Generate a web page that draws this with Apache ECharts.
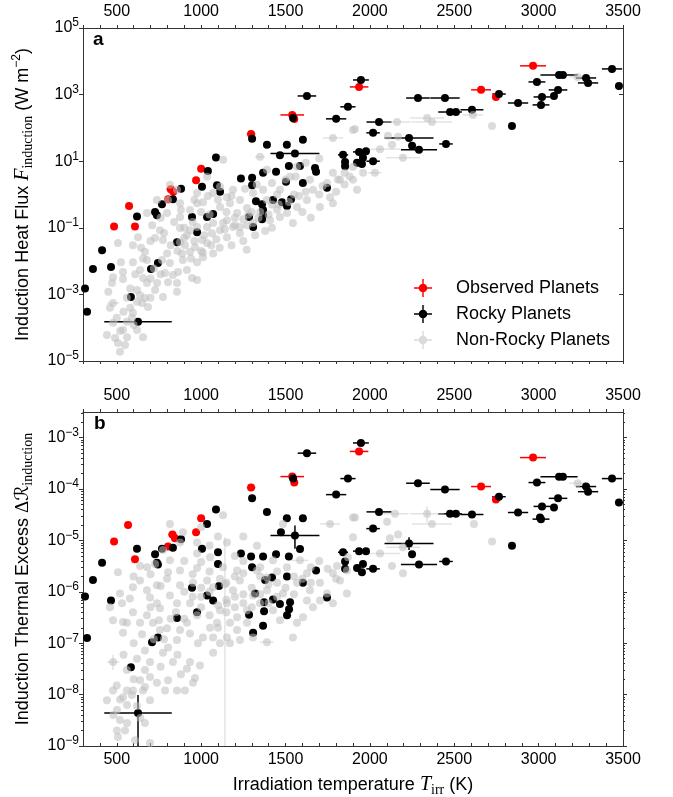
<!DOCTYPE html>
<html><head><meta charset="utf-8">
<script src="https://cdn.jsdelivr.net/npm/echarts@6/dist/echarts.min.js"></script>
<style>html,body{margin:0;padding:0;background:#fff}#c{width:673px;height:797px}</style>
</head><body><div id="c"></div><script>
// ---------------- DATA ----------------
const xTickLabels = [500, 1000, 1500, 2000, 2500, 3000, 3500];
const fluxDecades = [1e-5, 1e-3, 1e-1, 1e1, 1e3, 1e5];
const excessDecades = [1e-9, 1e-8, 1e-7, 1e-6, 1e-5, 1e-4, 1e-3];

// [T_irr (K), value, T error (K)]
const observedFlux = [
[484,0.11,0],[573,0.45,0],[608,0.11,0],[804,0.72,0],[820,1.45,25],[835,1.2,0],[970,2.7,0],[1000,5.9,0],
[1296,66,25],[1540,245,70],[1552,186,0],[1936,1700,55],[2659,1390,59],[2747,850,0],[2967,7300,77]];
const observedExcess = [
[484,9.5e-6,0],[567,2.0e-5,0],[608,4.3e-6,0],[804,7.6e-6,0],[830,1.3e-5,25],[845,1.1e-5,0],[970,1.45e-5,0],[1000,2.7e-5,0],
[1296,1.07e-4,25],[1540,1.75e-4,70],[1552,1.34e-4,0],[1936,5.4e-4,55],[2659,1.12e-4,59],[2747,6.3e-5,0],[2967,4.1e-4,77]];

const rockyFlux = [
[312,0.0015,0],[324,3.0e-4,0],[359,0.0058,0],[413,0.021,0],[466,0.0066,0],[584,8.3e-4,0],[626,1.5e-4,200],
[620,0.22,0],[703,0.0058,0],[744,0.0087,0],[727,0.30,0],[738,0.24,0],[768,0.51,0],[857,0.037,15],[833,0.72,0],
[881,1.5,0],[946,0.21,0],[976,0.074,0],[1005,1.7,0],[1040,5.1,15],[1088,13,10],[1035,0.21,0],[1071,0.26,0],
[1094,1.9,0],[1112,1.2,0],[1236,3.0,15],[1302,3.2,10],[1302,1.9,10],[1302,47,10],[1308,0.105,0],[1325,0.63,0],
[1361,0.51,0],[1367,0.34,0],[1367,0.24,0],[1361,0.18,0],[1367,4.5,0],[1390,31,10],[1426,0.68,0],[1444,4.8,0],
[1467,15,20],[1479,0.59,0],[1509,0.45,0],[1508,31,0],[1520,7.2,0],[1503,2.4,0],[1533,0.72,0],[1545,200,0],
[1556,17,145],[1586,7.2,0],[1603,2.2,0],[1603,44,15],[1627,910,55],[1675,6.3,0],[1681,4.8,0],[1746,1.6,0],
[1284,0.21,0],[1800,187,60],[1841,15.5,30],[1853,9.5,0],[1853,7.0,0],[1870,430,45],[1936,19,36],[1977,20,0],
[1959,12.6,0],[1953,8.3,0],[2019,10,40],[1924,9,0],[1947,2750,47],[2054,150,74],[2019,71,40],[2285,790,70],
[2445,790,87],[2475,300,70],[2510,300,0],[2605,350,68],[2232,50,145],[2250,29,0],[2291,22,107],[2451,33,40],
[2842,115,0],[2765,1040,40],[2878,560,60],[2990,2400,50],[3020,850,50],[3014,490,50],[3091,910,0],[3115,1380,55],
[3121,3900,110],[3144,3900,0],[3281,3160,60],[3293,2240,60],[3435,5900,60],[3476,1800,0]];

const rockyExcess = [
[312,8.1e-7,0],[324,1.26e-7,0],[359,1.7e-6,0],[413,3.7e-6,0],[466,6.8e-7,0],[584,3.4e-8,0],[626,4.4e-9,200],
[620,6.9e-6,0],[709,1.05e-7,0],[744,1.3e-7,0],[727,5.4e-6,0],[738,3.7e-6,0],[744,3.4e-6,0],[768,6.9e-6,0],
[833,7.2e-6,0],[857,3.1e-7,15],[881,1.05e-5,0],[946,1.2e-6,0],[976,4.0e-7,0],[1005,6.9e-6,0],[1035,2.1e-5,15],
[1088,4.0e-5,10],[1035,8.5e-7,0],[1071,6.8e-7,0],[1100,5.9e-6,0],[1100,3.5e-6,0],[1106,1.3e-6,0],[1236,5.6e-6,15],
[1296,4.9e-6,10],[1302,3.0e-6,10],[1302,6.6e-5,10],[1284,3.6e-7,0],[1308,1.6e-7,0],[1320,9.3e-7,0],[1367,2.2e-7,0],
[1373,4.2e-7,0],[1373,6.3e-7,0],[1367,4.9e-6,0],[1390,3.6e-5,10],[1379,1.7e-6,0],[1420,1.9e-6,0],[1426,7.1e-7,0],
[1444,5.4e-6,0],[1467,5.8e-7,0],[1473,1.45e-5,20],[1508,2.7e-5,0],[1509,2.0e-6,0],[1520,4.9e-6,0],[1527,6.3e-7,0],
[1521,4.6e-7,0],[1509,3.5e-7,0],[1545,1.6e-4,0],[1556,1.25e-5,145],[1586,6.8e-6,0],[1603,2.7e-5,15],[1603,1.5e-6,0],
[1627,5.0e-4,55],[1681,2.6e-6,0],[1746,7.8e-7,0],[1800,7.8e-5,60],[1841,5.9e-6,30],[1853,3.9e-6,0],[1853,2.8e-6,0],
[1870,1.6e-4,45],[1936,6.2e-6,36],[1977,6.2e-6,0],[1959,3.5e-6,0],[1953,2.4e-6,0],[2019,2.8e-6,40],[1924,2.9e-6,0],
[1947,7.9e-4,47],[2054,3.6e-5,74],[2019,1.7e-5,40],[2285,1.3e-4,70],[2445,9.8e-5,87],[2475,3.3e-5,70],[2510,3.3e-5,0],
[2605,3.2e-5,68],[2232,8.7e-6,145],[2250,5.4e-6,0],[2291,3.4e-6,107],[2451,3.9e-6,40],[2842,7.9e-6,0],[2765,7.1e-5,40],
[2878,3.5e-5,60],[2990,1.34e-4,50],[3020,4.6e-5,50],[3008,2.8e-5,0],[3014,2.6e-5,50],[3091,4.4e-5,0],[3115,6.6e-5,55],
[3121,1.74e-4,110],[3144,1.74e-4,0],[3281,1.12e-4,60],[3293,8.9e-5,60],[3435,1.6e-4,60],[3476,5.5e-5,0]];
// vertical error bars [T, value, low, high]
const rockyExcessVErr = [[626,4.4e-9,1e-10,9.8e-9],[1556,1.25e-5,6.9e-6,1.95e-5],[2232,8.7e-6,6.5e-6,1.15e-5]];

const nonRockyFlux = [
[507,3.5e-2,0],[525,9.3e-3,0],[537,4.7e-3,0],[478,3.3e-3,0],[472,2.2e-3,0],[537,2.9e-3,0],[596,3.0e-2,0],[626,5.2e-2,0],
[644,2.5e-2,0],[667,1.9e-2,0],[596,9.3e-3,0],[656,1.2e-2,0],[679,1.07e-2,0],[638,5.4e-3,0],[656,3.1e-3,0],[679,2.2e-3,0],
[727,1.35e-3,0],[739,2.2e-3,0],[620,1.35e-3,0],[638,9.5e-4,0],[667,7.8e-4,0],[650,5.5e-4,0],[685,4.2e-4,0],[596,2.8e-4,0],
[590,1.95e-4,0],[478,1.4e-4,0],[537,8.5e-5,0],[490,4.9e-5,0],[561,5.2e-5,0],[442,6.0e-5,0],[519,1.9e-5,0],[507,3.5e-5,0],
[549,3.0e-5,0],[656,5.2e-5,0],[620,8.5e-5,0],[478,5.5e-4,36],
[756,8.5e-2,0],[727,4.9e-2,0],[774,4.3e-2,0],[798,1.7e-2,0],[768,1.07e-2,0],[815,8.7e-3,0],[786,4.4e-3,0],[833,3.8e-3,0],
[804,2.3e-3,0],[857,2.2e-3,0],[774,8.3e-4,0],[857,1.2e-3,0],[892,1.07e-2,0],[916,5.4e-3,0],[887,1.7e-2,0],[934,1.9e-2,0],
[904,3.0e-2,0],[964,2.6e-2,0],[875,9.8e-2,0],[916,6.0e-2,0],[976,9.3e-3,0],[946,3.1e-3,0],[1011,1.3e-2,0],[1035,3.5e-2,0],
[1071,1.7e-2,0],[1005,4.3e-2,0],[1064,6.9e-2,0],[1112,8.5e-2,0],[1130,0.14,0],[1035,0.105,0],[1189,0.105,0],[1230,6.9e-2,0],
[1272,0.12,0],[1153,5.2e-2,0],[934,8.5e-2,0],[875,3.7e-2,0],[976,2.7e-3,0],[863,4.7e-3,0],
[815,1.95,0],[804,0.68,0],[875,0.55,0],[976,0.55,0],[976,1.1,0],[934,0.34,0],[1011,0.59,0],[1112,0.42,0],[1153,0.83,0],
[1071,1.1,0],[1112,1.7,0],[1189,1.4,0],[1171,0.55,0],[1230,0.68,0],[1213,0.28,0],[1272,0.39,0],[1308,1.1,0],[1367,1.4,0],
[1390,0.68,0],[1467,1.4,0],[1509,0.28,0],[1467,0.21,0],[1568,0.42,0],[1627,0.68,0],[1663,1.4,0],[1645,2.75,0],[1746,2.2,0],
[1781,4.5,0],[1823,2.75,0],[1900,6.8,0],[1900,2.75,0],[1924,1.4,0],[1764,0.83,0],[1781,0.55,0],[1704,0.42,0],[1544,0.14,0],
[1408,0.17,0],[1308,0.14,0],[1390,5.5,0],[1568,6.8,0],[1349,13.5,30],[1130,11,0],[1781,50,60],[1900,87,0],[1527,3.4,0],
[1035,3.4,0],[857,1.4,0],[738,0.68,0],[679,0.28,0],[798,0.28,0],[875,0.21,0],[1071,0.14,0],[1153,0.17,0],[976,0.105,0],
[1230,0.105,0],[1180,3.0e-2,0],[1250,4.0e-2,0],[1320,6.0e-2,0],[1380,8.0e-2,0],[1420,0.1,0],[1270,2.2e-2,0],[1110,2.5e-2,0],
[1200,0.2,0],[1350,0.3,0],[1450,0.35,0],[1050,0.25,0],[1000,0.3,0],[950,0.15,0],[900,0.1,0],[1150,0.3,0],[1280,0.25,0],
[1600,0.3,0],[1700,1.0,0],[1650,0.2,0],[1550,1.0,0],[1420,0.5,0],[1000,0.02,0],
[900,0.05,0],[960,0.04,0],[1020,0.06,0],[1090,0.045,0],[1140,0.09,0],[1200,0.12,0],[1250,0.18,0],[1300,0.3,0],[1340,0.2,0],
[1400,0.25,0],[1460,0.5,0],[1520,0.6,0],[1580,0.9,0],[1620,1.2,0],[1720,1.8,0],[1800,1.2,0],[1850,2.0,0],[960,0.7,0],
[1040,0.9,0],[1100,0.7,0],[1180,0.9,0],[1260,1.5,0],[1330,2.0,0],[1420,2.2,0],[1500,2.8,0],[1560,3.5,0],[1450,1.0,0],
[1010,0.018,0],[1060,0.03,0],[940,0.012,0],[860,0.02,0],[820,0.03,0],[780,0.07,0],[700,0.04,0],[710,0.12,0],[760,0.2,0],
[840,0.15,0],[880,0.35,0],[720,0.006,0],[760,0.004,0],[700,0.003,0],[610,0.004,0],[580,0.0015,0],[560,0.0008,0],
[620,0.0006,0],[700,0.0008,0],[540,0.0003,0],[500,0.0002,0],[560,0.00015,0],[600,0.00012,0],[520,0.00008,0],[580,0.0004,0],
[450,0.0012,0],[460,0.0004,0],
[2339,200,100],[2368,150,120],[2611,245,60],[2724,115,0],[2161,150,80],[1912,93,0],[2107,58,0],[2167,54,0],[2060,23,120],
[2131,31,0],[2196,12.6,100],[3231,3400,50],[1850,4.5,0],[1960,4.5,0],[2030,4.5,40],[1810,2.8,0],[1880,3.5,0],[1700,12,0],[1620,9,0]];

const nonRockyExcess = [
[531,6.0e-7,0],[596,4.0e-7,0],[478,2.8e-7,0],[537,2.6e-7,0],[537,1.6e-7,0],[638,2.5e-7,0],[679,3.5e-7,0],[715,2.5e-7,0],
[756,4.8e-7,0],[798,1.95e-7,0],[756,1.8e-7,0],[875,1.8e-7,0],[916,2.5e-7,0],[804,8.3e-8,0],[857,1.15e-7,0],[774,6.5e-8,0],
[833,4.3e-8,0],[667,7.2e-8,0],[697,4.3e-8,0],[667,3.0e-8,0],[697,2.2e-8,0],[638,1.9e-8,0],[667,1.4e-8,0],[596,1.2e-8,0],
[738,1.7e-8,0],[786,1.2e-8,0],[804,1.9e-8,0],[857,1.2e-8,0],[478,1.2e-8,0],[442,7.8e-9,0],[537,8.9e-9,0],[590,9.8e-9,0],
[656,1.2e-8,0],[697,7.8e-9,0],[501,5.0e-9,0],[561,6.3e-9,0],[519,3.2e-9,0],[561,2.8e-9,0],[667,2.8e-9,0],[501,2.0e-9,0],
[549,2.0e-9,0],[507,1.5e-9,0],[697,1.15e-9,0],[608,1.3e-9,0],[478,4.3e-8,36],
[934,6.0e-7,0],[976,3.5e-7,0],[934,1.55e-7,0],[1011,1.3e-7,0],[981,1.0e-7,0],[1071,1.3e-7,0],[1053,2.0e-7,0],[1094,2.5e-7,0],
[1071,6.5e-8,0],[993,3.7e-8,0],[934,4.3e-8,0],[916,3.2e-8,0],[964,2.1e-8,0],[904,1.2e-8,0],[952,1.7e-8,0],[1112,4.4e-7,0],
[1153,6.0e-7,0],[1213,3.2e-7,0],[1171,2.5e-7,0],[1213,1.8e-7,0],[1272,2.5e-7,0],[1230,1.15e-7,0],[1171,1.0e-7,0],[1112,1.0e-7,0],
[1153,1.3e-7,0],[1308,1.3e-7,0],[1390,1.05e-7,40],[1272,4.4e-7,0],[1349,6.0e-7,0],[1426,4.4e-7,0],[1467,2.8e-7,0],[1544,1.3e-7,0],
[1568,2.5e-7,0],[1604,3.2e-7,0],[1663,5.0e-7,0],[1627,6.8e-7,0],[1704,6.8e-7,0],[1781,6.0e-7,0],[1864,9.3e-7,0],[857,6.0e-7,0],
[815,8.5e-7,0],[738,6.0e-7,0],[578,7.4e-7,0],[697,7.8e-7,0],[519,9.3e-7,0],
[815,2.1e-5,0],[892,1.45e-5,0],[976,9.1e-6,0],[1130,3.1e-5,0],[1331,7.9e-6,0],[1485,2.1e-5,0],[1764,2.1e-5,60],[1900,2.8e-5,0],
[875,9.1e-6,0],[774,6.5e-6,0],[815,4.1e-6,0],[727,3.5e-6,0],[638,3.2e-6,0],[507,2.4e-6,0],[976,5.6e-6,0],[1053,4.7e-6,0],
[976,2.9e-6,0],[875,2.6e-6,0],[804,2.4e-6,0],[638,1.66e-6,0],[596,1.23e-6,0],[679,1.07e-6,0],[798,1.8e-6,0],[875,1.35e-6,0],
[952,1.5e-6,0],[1035,1.66e-6,0],[1112,1.8e-6,0],[1130,3.0e-6,0],[1213,2.6e-6,0],[1230,1.66e-6,0],[1331,2.6e-6,0],[1390,1.9e-6,0],
[1426,4.1e-6,0],[1509,3.0e-6,0],[1586,4.1e-6,50],[1627,2.3e-6,0],[1568,1.5e-6,0],[1704,1.5e-6,0],[1781,2.3e-6,0],[1864,2.6e-6,0],
[1823,1.66e-6,0],[1746,9.3e-7,0],[1645,1.07e-6,0],[1485,9.3e-7,0],[1390,1.07e-6,0],[1189,1.07e-6,0],[1308,8.5e-7,0],[1900,1.15e-5,0],
[1153,9.1e-6,0],[1071,1.23e-6,0],[738,1.35e-6,0],
[1050,1.0e-6,0],[1150,7.0e-7,0],[1250,9.0e-7,0],[1200,5.0e-7,0],[1300,5.0e-7,0],[1400,6.0e-7,0],[1450,1.5e-6,0],[1100,5.5e-7,0],
[1000,8.0e-7,0],[1350,3.0e-6,0],[1250,4.0e-6,0],[1450,2.5e-6,0],[1550,2.0e-6,0],[1650,3.0e-6,0],[1700,4.0e-6,0],
[850,4e-7,0],[900,3e-7,0],[950,8e-7,0],[1000,5e-7,0],[1050,3.5e-7,0],[1100,2e-7,0],[1150,4e-7,0],[1200,8e-7,0],[1250,6e-7,0],
[1300,1.2e-6,0],[1350,9e-7,0],[1400,1.4e-6,0],[1450,8e-7,0],[1500,1.2e-6,0],[1550,9e-7,0],[1600,1.8e-6,0],[1650,1.5e-6,0],
[1750,2.8e-6,0],[1800,1.8e-6,0],[900,1.0e-6,0],[1000,1.2e-6,0],[1150,1.5e-6,0],[1200,2e-6,0],[1250,2.3e-6,0],[1350,2.0e-6,0],
[950,2.2e-6,0],[900,4e-6,0],[1000,3.8e-6,0],[1050,2.5e-6,0],[700,5e-7,0],[750,2.8e-7,0],[820,3e-7,0],[780,1.2e-7,0],[720,1.2e-7,0],
[650,1.5e-7,0],[600,1.0e-7,0],[620,5e-8,0],[560,3e-8,0],[600,2e-8,0],[540,6e-8,0],[760,3.5e-8,0],[860,6e-8,0],[880,2.5e-8,0],
[500,1.5e-8,0],[560,1.2e-8,0],[620,6e-9,0],[640,3.5e-9,0],[520,8e-9,0],[480,4e-9,0],[700,2.2e-6,0],[760,1.3e-6,0],[680,3e-6,0],
[560,2.5e-7,0],[460,5e-7,0],[600,2e-6,0],[1100,1.2e-5,0],[1000,1.8e-5,0],[1250,1.2e-5,0],[1050,8e-6,0],[1200,5e-6,0],
[3231,1.3e-4,50],[2724,9.5e-6,0],[2617,2.1e-5,0],[2339,3.3e-5,100],[2368,2.1e-5,120],[2149,3.3e-5,80],[2102,2.3e-5,0],[1912,2.8e-5,0],
[2167,1.3e-5,0],[2119,1.1e-5,0],[2196,7.4e-6,100],[2060,5.6e-6,120],[2131,3.2e-6,0],[2196,2.3e-6,0],[1870,4.7e-6,0],[1805,3.2e-6,0],
[1141,1.4e-6,0]];
const nonRockyExcessVErr = [[1141,1.4e-6,1e-10,1.15e-5],[478,4.3e-8,3.0e-8,6.0e-8],[2339,3.3e-5,2.2e-5,4.6e-5]];

// ---------------- STYLE ----------------
const SANS = '"Liberation Sans", Arial, sans-serif';
const SERIF = '"Liberation Serif", "Times New Roman", serif';
const RED = '#ff0000', BLACK = '#000000', GREY = 'rgba(190,190,190,0.55)', GREYBAR = 'rgba(200,200,200,0.5)';
const AX = '#333333';

const excessMinor = [];
excessDecades.forEach(d => { for (let m = 2; m <= 9; m++) { const v = m * d; if (v < 0.0031) excessMinor.push(v); } });

function decadeLabel(v) {
  const e = Math.round(Math.log10(v));
  return '{b|10}{s|' + (e < 0 ? '\u2212' + (-e) : '' + e) + '}';
}
const tickRich = {
  b: {fontSize: 16, fontFamily: SANS, color: '#000', lineHeight: 22},
  s: {fontSize: 12, fontFamily: SANS, color: '#000', verticalAlign: 'top', lineHeight: 12}
};
const nameRich = {
  t: {fontSize: 18, fontFamily: SANS, color: '#000', lineHeight: 24},
  i: {fontSize: 20, fontFamily: SERIF, fontStyle: 'italic', color: '#000', lineHeight: 24},
  d: {fontSize: 19, fontFamily: SERIF, color: '#000', lineHeight: 24},
  r: {fontSize: 19, fontFamily: '"DejaVu Serif", "DejaVu Sans", serif', fontStyle: 'italic', color: '#000', lineHeight: 24},
  u: {fontSize: 14, fontFamily: SERIF, color: '#000', verticalAlign: 'bottom', lineHeight: 14},
  s: {fontSize: 12, fontFamily: SANS, color: '#000', verticalAlign: 'top', lineHeight: 12}
};

function xAxis(grid, pos, showLabel, inside, margin, extra) {
  return Object.assign({
    type: 'value', gridIndex: grid, position: pos, min: 300, max: 3500, interval: 100,
    axisLine: {show: true, onZero: false, lineStyle: {color: AX, width: 1}},
    axisTick: {show: true, inside: inside, length: 3, lineStyle: {color: AX, width: 1}},
    axisLabel: {show: showLabel, customValues: xTickLabels, formatter: v => String(v),
      fontSize: 16, fontFamily: SANS, color: '#000', margin: margin},
    splitLine: {show: false}, nameMoveOverlap: false
  }, extra || {});
}
function yAxis(grid, pos, min, max, decades, showLabel, inside, extra) {
  return Object.assign({
    type: 'log', logBase: 10, gridIndex: grid, position: pos, min: min, max: max,
    axisLine: {show: true, onZero: false, lineStyle: {color: AX, width: 1}},
    axisTick: {show: true, inside: inside, length: 4, customValues: decades, lineStyle: {color: AX, width: 1}},
    axisLabel: {show: showLabel, customValues: decades, formatter: decadeLabel, rich: tickRich, margin: 4},
    splitLine: {show: false}, minorTick: {show: false}, nameMoveOverlap: false
  }, extra || {});
}
function minorAxis(grid, pos, min, max) {
  return {
    type: 'log', logBase: 10, gridIndex: grid, position: pos, min: min, max: max,
    axisLine: {show: false}, axisLabel: {show: false}, splitLine: {show: false},
    axisTick: {show: true, inside: false, length: 2, customValues: excessMinor, lineStyle: {color: AX, width: 1}}
  };
}

function barData(pts, vErr) {
  const out = [];
  pts.forEach(p => { if (p[2] > 0) out.push([p[0], p[1], p[0] - p[2], p[0] + p[2], p[1], p[1]]); });
  (vErr || []).forEach(v => out.push([v[0], v[1], v[0], v[0], v[2], v[3]]));
  return out;
}
function barSeries(pts, vErr, xi, yi, color) {
  return {
    type: 'custom', xAxisIndex: xi, yAxisIndex: yi, clip: true, silent: true,
    encode: {x: 0, y: 1}, data: barData(pts, vErr),
    renderItem: function (params, api) {
      const x = api.value(0), y = api.value(1), xl = api.value(2), xh = api.value(3), yl = api.value(4), yh = api.value(5);
      const st = {stroke: color, lineWidth: 1.5};
      const ch = [];
      if (xh > xl) { const a = api.coord([xl, y]), b = api.coord([xh, y]); ch.push({type: 'line', shape: {x1: a[0], y1: a[1], x2: b[0], y2: b[1]}, style: st}); }
      if (yh > yl) { const a = api.coord([x, yl]), b = api.coord([x, yh]); ch.push({type: 'line', shape: {x1: a[0], y1: a[1], x2: b[0], y2: b[1]}, style: st}); }
      return {type: 'group', children: ch};
    }
  };
}
function ptSeries(name, pts, xi, yi, color) {
  return {
    type: 'scatter', name: name, xAxisIndex: xi, yAxisIndex: yi, silent: true,
    symbol: 'circle', symbolSize: 8, itemStyle: {color: color, borderWidth: 0, opacity: 1},
    data: pts.map(p => [p[0], p[1]])
  };
}

const ICON = 'path://M0,9.2H20V10.8H0Z M9.2,0H10.8V20H9.2Z M10,5.2A4.8,4.8 0 1,1 9.99,5.2Z';

const option = {
  animation: false,
  backgroundColor: '#ffffff',
  title: [
    {text: 'a', left: 93, top: 30, padding: 0, textStyle: {fontSize: 19, fontWeight: 'bold', fontFamily: SANS, color: '#000'}},
    {text: 'b', left: 94, top: 414, padding: 0, textStyle: {fontSize: 19, fontWeight: 'bold', fontFamily: SANS, color: '#000'}}
  ],
  grid: [
    {left: 83, top: 28, width: 540, height: 333, outerBoundsMode: 'none', containLabel: false},
    {left: 83, top: 412, width: 540, height: 334, outerBoundsMode: 'none', containLabel: false}
  ],
  legend: {
    data: [{name: 'Observed Planets', icon: ICON}, {name: 'Rocky Planets', icon: ICON}, {name: 'Non-Rocky Planets', icon: ICON}],
    orient: 'vertical', left: 409, top: 274, itemWidth: 18, itemHeight: 18, itemGap: 8, selectedMode: false,
    formatter: n => '{p| }' + n,
    textStyle: {fontSize: 18, fontFamily: SANS, color: '#000', rich: {p: {width: 19}}}
  },
  xAxis: [
    xAxis(0, 'top', true, false, 8),
    xAxis(0, 'bottom', false, false, 8),
    xAxis(1, 'top', true, false, 8),
    xAxis(1, 'bottom', true, true, 6, {
      name: '{t|Irradiation temperature }{i|T}{u|irr}{t| (K)}', nameLocation: 'middle', nameGap: 27,
      nameTextStyle: {rich: nameRich}
    })
  ],
  yAxis: [
    yAxis(0, 'left', 1e-5, 1e5, fluxDecades, true, false, {
      name: '{t|Induction Heat Flux }{i|F}{u|induction}{t| (W m}{s|\u22122}{t|)}', nameLocation: 'middle', nameRotate: 90, nameGap: 48,
      nameTextStyle: {rich: nameRich}
    }),
    yAxis(0, 'right', 1e-5, 1e5, fluxDecades, false, true),
    yAxis(1, 'left', 1e-9, 0.0031623, excessDecades, true, false, {
      name: '{t|Induction Thermal Excess }{d|\u0394}{r|\u211B}{u|induction}', nameLocation: 'middle', nameRotate: 90, nameGap: 48,
      nameTextStyle: {rich: nameRich}
    }),
    yAxis(1, 'right', 1e-9, 0.0031623, excessDecades, false, false),
    minorAxis(1, 'left', 1e-9, 0.0031623),
    minorAxis(1, 'right', 1e-9, 0.0031623)
  ],
  series: [
    barSeries(observedFlux, null, 0, 0, RED),
    ptSeries('Observed Planets', observedFlux, 0, 0, RED),
    barSeries(rockyFlux, null, 0, 0, BLACK),
    ptSeries('Rocky Planets', rockyFlux, 0, 0, BLACK),
    barSeries(nonRockyFlux, null, 0, 0, GREYBAR),
    ptSeries('Non-Rocky Planets', nonRockyFlux, 0, 0, GREY),

    barSeries(observedExcess, null, 3, 2, RED),
    ptSeries('Observed Planets', observedExcess, 3, 2, RED),
    barSeries(rockyExcess, rockyExcessVErr, 3, 2, BLACK),
    ptSeries('Rocky Planets', rockyExcess, 3, 2, BLACK),
    barSeries(nonRockyExcess, nonRockyExcessVErr, 3, 2, GREYBAR),
    ptSeries('Non-Rocky Planets', nonRockyExcess, 3, 2, GREY)
  ]
};

const chart = echarts.init(document.getElementById('c'), null, {renderer: 'canvas'});
chart.setOption(option);
</script></body></html>
